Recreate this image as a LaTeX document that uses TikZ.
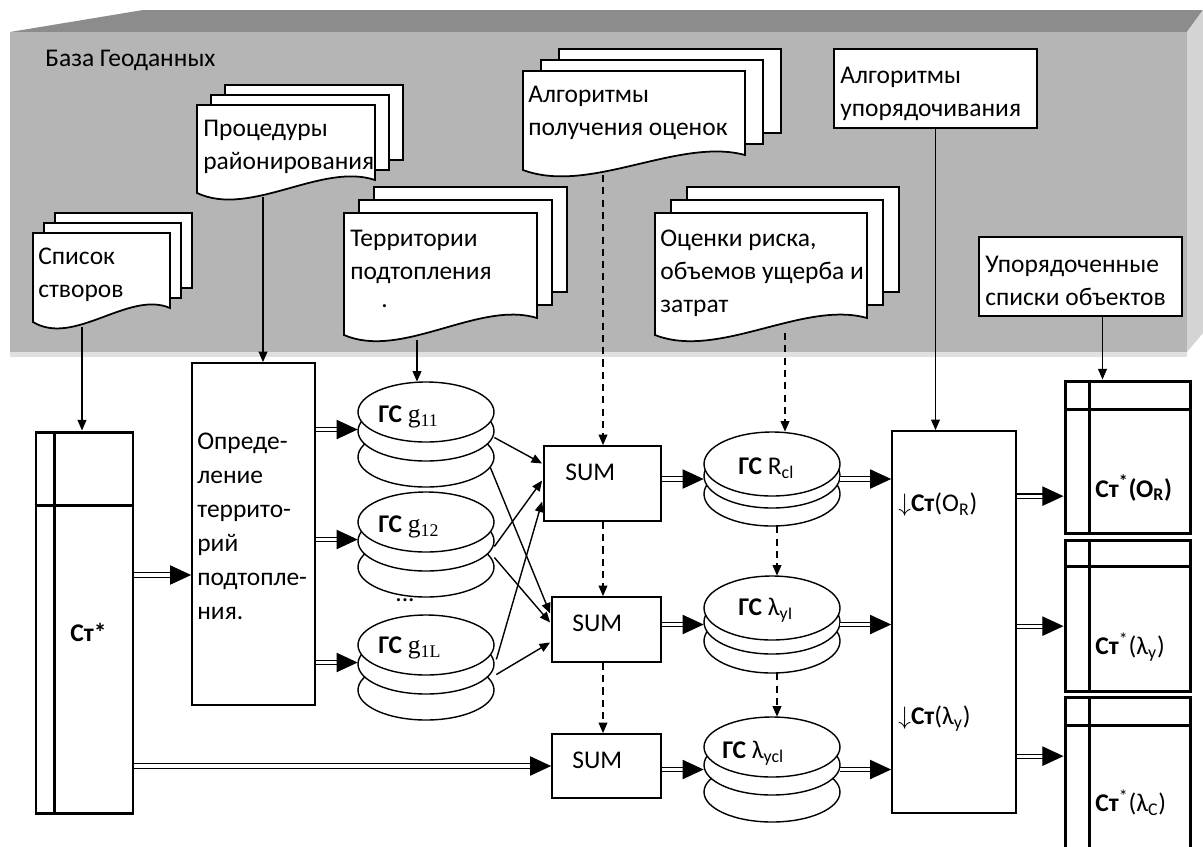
\documentclass[tikz,border=0pt]{standalone}
\usepackage{fontspec}
\setmainfont{Carlito}
\newfontfamily\gfont{Liberation Serif}
\usetikzlibrary{arrows.meta,calc,fit}

% stack of three pages, the front one with a wavy lower edge
% x0, y0, x1, y-left-bottom, y-right-bottom, dx, dy
\newcommand{\docstack}[7]{%
	\foreach \k in {2,1}
		\filldraw[page] ({#1+\k*#6},{#2-\k*#7}) rectangle ({#3+\k*#6},{#5-\k*#7});
	\filldraw[page] (#1,#2) -- (#3,#2) -- (#3,#5)
		.. controls ({#1+0.7*(#3-#1)},{#5-18}) and ({#1+0.3*(#3-#1)},{#4+25}) .. (#1,#4) -- cycle;
}
% stacked discs: name, cx, top, rx, ry, d2, d3
\newcommand{\gsdisk}[7]{%
	\filldraw[disk] (#2,{#3+#5+#7}) ellipse [x radius=#4, y radius=#5];
	\filldraw[disk] (#2,{#3+#5+#6}) ellipse [x radius=#4, y radius=#5];
	\filldraw[disk] (#2,{#3+#5}) ellipse [x radius=#4, y radius=#5];
	\node[inner sep=0pt, fit={({#2-#4},#3) ({#2+#4},{#3+2*#5+#7})}] (#1) {};
}
% list box: name, x0, y0, x1, y1, column, header
\newcommand{\listbox}[7]{%
	\node[thickframe, fit={(#2,#3) (#4,#5)}] (#1) {};
	\draw[line width=1.7pt] ($(#1.north west)+(#6,0)$) -- ($(#1.south west)+(#6,0)$);
	\draw[line width=1.7pt] ($(#1.north west)+(0,#7)$) -- ($(#1.north east)+(0,#7)$);
}

\begin{document}
\begin{tikzpicture}[x=0.02cm, y=-0.02cm, font=\fontsize{14.5}{18.7}\selectfont,
	page/.style={draw, fill=white, line width=1pt},
	frame/.style={draw, fill=white, line width=1pt, inner sep=0pt},
	thickframe/.style={frame, line width=1.7pt},
	disk/.style={draw, fill=white, line width=0.8pt},
	txt/.style={anchor=north west, inner sep=0pt, align=left},
	lbl/.style={anchor=west, inner sep=0pt},
	arr/.style={line width=0.8pt, -{Triangle[length=6pt,width=5pt]}},
	darr/.style={arr, dash pattern=on 4pt off 3pt},
	dbl/.style={double, double distance=1.8pt, line width=0.6pt, -{Triangle[length=12pt,width=11pt]}}]
	\useasboundingbox (0,0) rectangle (1203,846);
	\clip (0,0) rectangle (1203,846);
	\fill[white] (0,0) rectangle (1203,846);

	% geodatabase
	\fill[black!45!white] (10,32) -- (143,10) -- (1203,10) -- (1187,32) -- cycle;
	\fill[black!17!white] (1187,32) -- (1203,10) -- (1203,333) -- (1187,352) -- cycle;
	\fill[black!12!white] (10,352) rectangle (1187,357);
	\fill[black!29!white] (10,32) rectangle (1187,352);
	\node[txt] (db) at (45,50) {База Геоданных};

	\docstack{33}{233}{170}{322}{308}{11}{10}
	\node[txt] (spisok) at (38,248) {Список\\створов};
	\coordinate (spisokB) at (82,327);

	\docstack{197}{105}{375}{193}{180}{14}{10}
	\node[txt] (proc) at (203,120) {Процедуры\\районирования};
	\coordinate (procB) at (263,197);

	\docstack{344}{213}{537}{335}{318}{15}{13}
	\node[txt] (terr) at (350,230) {Территории\\подтопления};
	\node[lbl] (terrdot) at (381,306) {.};
	\coordinate (terrB) at (417,340);

	\docstack{523}{71}{745}{170}{155}{18}{11}
	\node[txt] (alg) at (528,86) {Алгоритмы\\получения оценок};
	\coordinate (algB) at (603,175);

	\docstack{655}{213}{867}{335}{318}{16}{13}
	\node[txt] (ocen) at (660,230) {Оценки риска,\\объемов ущерба и\\затрат};
	\coordinate (ocenB) at (785,333);

	\node[frame, line width=1.1pt, fit={(834,49) (1037,128)}] (algUp) {};
	\node[txt] (algUpT) at (840,67) {Алгоритмы\\упорядочивания};
	\node[frame, line width=1.1pt, fit={(979,237) (1182,316)}] (upor) {};
	\node[txt] (uporT) at (985,256) {Упорядоченные\\списки объектов};
	\coordinate (uporB) at ($(upor.south)+(22,0)$);

	% processing
	\listbox{st}{36}{432}{133}{813}{20}{75}
	\node[lbl] (stT) at (70,632) {\textbf{Ст*}};

	\node[frame, fit={(192,363) (315,705)}] (opr) {};
	\node[txt, font=\fontsize{14.5}{19.3}\selectfont] (oprT) at (197,433) {Опреде-\\ление\\террито-\\рий\\подтопле-\\ния.};

	\gsdisk{g11}{426}{382}{68}{30}{19}{45}
	\gsdisk{g12}{426}{492}{68}{30}{19}{45}
	\gsdisk{g1L}{426}{615}{68}{30}{19}{45}
	\node[lbl] (g11T) at (378,417) {\textbf{ГС} {\gfont g\textsubscript{11}}};
	\node[lbl] (g12T) at (378,527) {\textbf{ГС} {\gfont g\textsubscript{12}}};
	\node[lbl] (g1LT) at (378,648) {\textbf{ГС} {\gfont g\textsubscript{1L}}};
	\node (dots) at (405,600) {...};

	\node[frame, fit={(544,446) (661,521)}] (sum1) {};
	\node[frame, fit={(552,597) (661,662)}] (sum2) {};
	\node[frame, fit={(552,734) (661,798)}] (sum3) {};
	\node[lbl] (sum1T) at (565,472) {SUM};
	\node[lbl] (sum2T) at (572,623) {SUM};
	\node[lbl] (sum3T) at (572,760) {SUM};

	\gsdisk{rcl}{772}{432}{68}{32}{12}{30}
	\gsdisk{lyi}{772}{576}{68}{32}{14}{33}
	\gsdisk{lycl}{772}{717}{68}{30}{18}{45}
	\node[lbl] (rclT) at (738,468) {\textbf{ГС} R\textsubscript{cl}};
	\node[lbl] (lyiT) at (738,610) {\textbf{ГС} λ\textsubscript{yI}};
	\node[lbl] (lyclT) at (722,753) {\textbf{ГС} λ\textsubscript{ycl}};

	\node[frame, fit={(892,431) (1016,813)}] (big) {};
	\node[lbl] (bigT1) at (898,505) {$\downarrow$\textbf{Ст}(O\textsubscript{R})};
	\node[lbl] (bigT2) at (898,719) {$\downarrow$\textbf{Ст}(λ\textsubscript{y})};

	\listbox{out1}{1065}{381}{1190}{533}{26}{30}
	\listbox{out2}{1065}{540}{1190}{691}{26}{28}
	\listbox{out3}{1065}{697}{1190}{870}{26}{30}
	\node[lbl] (out1T) at (1095,488) {\textbf{Ст\textsuperscript{*}(O\textsubscript{R})}};
	\node[lbl] (out2T) at (1095,647) {\textbf{Ст}\textsuperscript{*}(λ\textsubscript{y})};
	\node[lbl] (out3T) at (1095,803) {\textbf{Ст}\textsuperscript{*}(λ\textsubscript{C})};

	% connectors
	\draw[arr] (spisokB) -- (spisokB |- st.north);
	\draw[arr] (procB) -- (procB |- opr.north);
	\draw[arr] (terrB) -- (terrB |- g11.north);
	\draw[darr] (algB) -- (algB |- sum1.north);
	\draw[darr] (algB |- sum1.south) -- (algB |- sum2.north);
	\draw[darr] (algB |- sum2.south) -- (algB |- sum3.north);
	\draw[darr] (ocenB) -- (ocenB |- rcl.north);
	\draw[darr] ($(rcl.south)+(5,0)$) -- ($(lyi.north)+(5,0)$);
	\draw[darr] ($(lyi.south)+(5,0)$) -- ($(lycl.north)+(5,0)$);
	\draw[arr] (algUp.south) -- (algUp.south |- big.north);
	\draw[arr] (uporB) -- (uporB |- out1.north);

	\coordinate (oprIn) at ($(opr.west)+(0,41)$);
	\draw[dbl] (st.east |- oprIn) -- (oprIn);
	\foreach \g in {g11,g12,g1L}
		\draw[dbl] (opr.east |- {$(\g.west)+(0,-5)$}) -- ($(\g.west)+(0,-5)$);
	\draw[dbl] (st.east |- sum3.west) -- (sum3.west);
	\foreach \s/\sdx/\sdy/\d/\ddy in {g11/0/3/sum1/-20, g11/-4/33/sum2/-16, g12/0/2/sum1/-3,
			g12/0/13/sum2/-7, g1L/2/-8/sum1/18, g1L/2/7/sum2/13}
		\draw[arr] ($(\s.east)+(\sdx,\sdy)$) -- ($(\d.west)+(-1,\ddy)$);
	\draw[dbl] (sum1.east |- rcl.west) -- (rcl.west);
	\draw[dbl] (sum2.east |- lyi.west) -- (lyi.west);
	\draw[dbl] (sum3.east |- lycl.west) -- (lycl.west);
	\foreach \c in {rcl,lyi,lycl}
		\draw[dbl] (\c.east) -- (\c.east -| big.west);
	\foreach \dy/\t in {66/out1,196/out2,326/out3}{
		\coordinate (p) at ($(big.north east)+(0,\dy)$);
		\draw[dbl] (p) -- (p -| \t.west);
	}
\end{tikzpicture}
\end{document}
